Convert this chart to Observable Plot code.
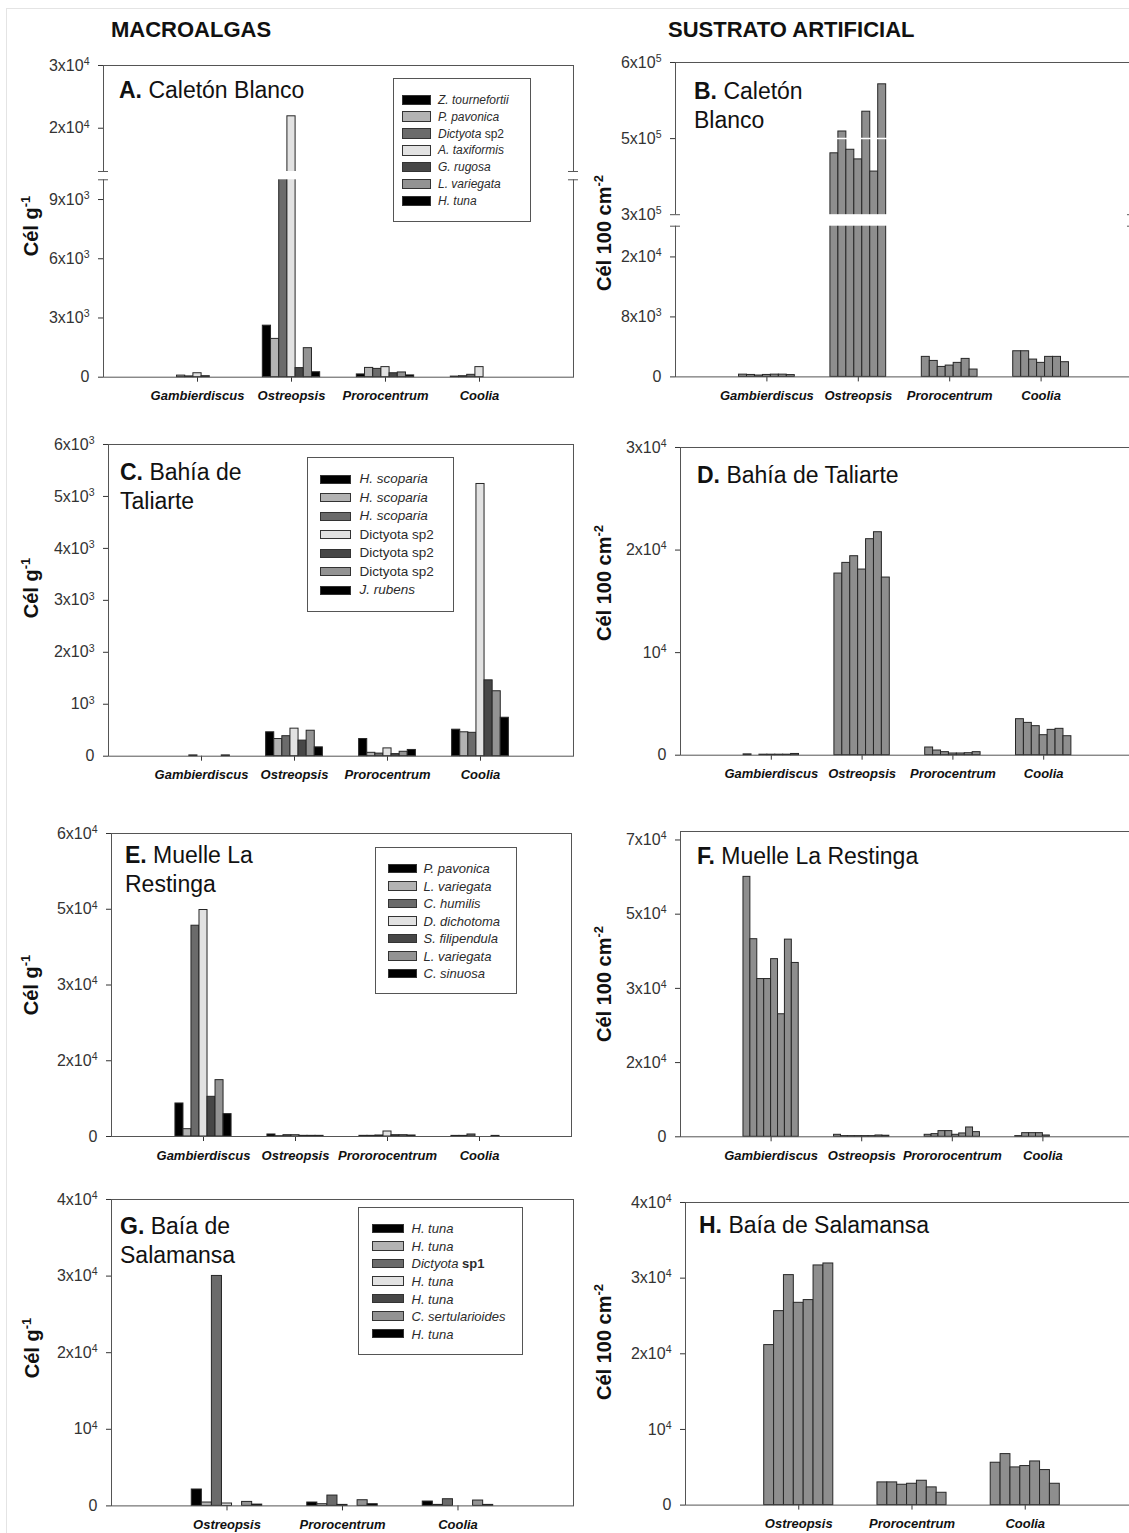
<!DOCTYPE html>
<html><head><meta charset="utf-8">
<script src="https://cdn.jsdelivr.net/npm/d3@7"></script>
<script src="https://cdn.jsdelivr.net/npm/@observablehq/plot@0.6"></script>
<style>
html,body{margin:0;padding:0;background:#fff;}
body{width:1129px;height:1533px;overflow:hidden;}
#page{position:relative;width:1129px;height:1533px;overflow:hidden;font-family:"Liberation Sans",Arial,Helvetica,sans-serif;color:#111;}
.a{position:absolute;white-space:nowrap;}
.hdr{font-weight:bold;font-size:22px;line-height:24px;}
.ttl{font-size:23px;line-height:29px;color:#111;}
.ylab{font-weight:bold;font-size:20px;line-height:22px;transform:translate(-50%,-50%) rotate(-90deg);}
.ylab sup{font-size:13px;line-height:0;vertical-align:0;position:relative;top:-8px;}
.leg{border:1px solid #555;background:#fff;box-sizing:border-box;}
.sw{position:absolute;border:1px solid #333;box-sizing:border-box;}
.lt{position:absolute;color:#2b2b2b;white-space:nowrap;transform:translateY(-50%);line-height:1;}
.edge{position:absolute;background:#e4e4e4;}
</style></head>
<body><div id="page"></div>
<script>
// ---------------- DATA ----------------
const groups4 = ["Gambierdiscus", "Ostreopsis", "Prorocentrum", "Coolia"];
const groupsE = ["Gambierdiscus", "Ostreopsis", "Prororocentrum", "Coolia"];
const groups3 = ["Ostreopsis", "Prorocentrum", "Coolia"];

const seriesA = ["Z. tournefortii", "P. pavonica", "Dictyota sp2", "A. taxiformis", "G. rugosa", "L. variegata", "H. tuna"];
const seriesC = ["H. scoparia", "H. scoparia", "H. scoparia", "Dictyota sp2", "Dictyota sp2", "Dictyota sp2", "J. rubens"];
const seriesE = ["P. pavonica", "L. variegata", "C. humilis", "D. dichotoma", "S. filipendula", "L. variegata", "C. sinuosa"];
const seriesG = ["H. tuna", "H. tuna", "Dictyota sp1", "H. tuna", "H. tuna", "C. sertularioides", "H. tuna"];
const substrate7 = ["1", "2", "3", "4", "5", "6", "7"];
const substrate8 = ["1", "2", "3", "4", "5", "6", "7", "8"];

// values: one row per group, one column per series
const valuesA = [
  [0, 80, 40, 200, 50, 0, 0],
  [2610, 1940, 11000, 21900, 460, 1470, 250],
  [140, 470, 420, 510, 200, 240, 90],
  [30, 50, 120, 510, 0, 0, 0]
];
const valuesB = [
  [300, 260, 180, 260, 300, 300, 240],
  [421000, 464000, 428000, 409000, 503000, 385000, 557000],
  [2670, 2130, 1330, 1510, 1870, 2400, 980],
  [3420, 3420, 2310, 1870, 2670, 2670, 1960]
];
const valuesC = [
  [0, 0, 15, 0, 0, 0, 15],
  [460, 330, 385, 530, 300, 490, 170],
  [330, 65, 50, 150, 40, 85, 120],
  [510, 460, 450, 5240, 1460, 1250, 740]
];
const valuesD = [
  [80, 0, 50, 50, 50, 50, 120],
  [17710, 18750, 19400, 18100, 21060, 21740, 17320],
  [750, 455, 295, 165, 165, 195, 295],
  [3510, 3150, 2830, 1950, 2470, 2570, 1850]
];
const valuesE = [
  [6540, 1450, 41740, 44850, 7860, 11160, 4430],
  [400, 60, 260, 260, 130, 130, 130],
  [130, 130, 200, 990, 260, 260, 200],
  [120, 120, 400, 0, 0, 120, 0]
];
const valuesF = [
  [61300, 46600, 37200, 37200, 41900, 28900, 46500, 41000],
  [470, 160, 160, 160, 160, 160, 310, 250],
  [470, 630, 1340, 1340, 470, 790, 2200, 1100],
  [160, 860, 860, 860, 310, 0, 0, 0]
];
const valuesG = [
  [2140, 440, 30020, 310, 0, 520, 170],
  [440, 220, 1350, 130, 0, 740, 220],
  [570, 130, 870, 0, 0, 700, 130]
];
const valuesH = [
  [21150, 25640, 30400, 26740, 27100, 31680, 31940],
  [3000, 3000, 2690, 2820, 3220, 2340, 1630],
  [5600, 6740, 4980, 5160, 5770, 4630, 2820]
];

// y tick values and their printed labels
const ticksA = [0, 3000, 6000, 9000, 20000, 30000];
const tickLabelsA = ["0", "3x10^3", "6x10^3", "9x10^3", "2x10^4", "3x10^4"];
const ticksB = [0, 8000, 16000, 300000, 450000, 600000];
const tickLabelsB = ["0", "8x10^3", "2x10^4", "3x10^5", "5x10^5", "6x10^5"];
const ticksC = [0, 1000, 2000, 3000, 4000, 5000, 6000];
const tickLabelsC = ["0", "10^3", "2x10^3", "3x10^3", "4x10^3", "5x10^3", "6x10^3"];
const ticksD = [0, 10000, 20000, 30000];
const tickLabelsD = ["0", "10^4", "2x10^4", "3x10^4"];
const ticksE = [0, 15000, 30000, 45000, 60000];
const tickLabelsE = ["0", "2x10^4", "3x10^4", "5x10^4", "6x10^4"];
const ticksF = [0, 17500, 35000, 52500, 70000];
const tickLabelsF = ["0", "2x10^4", "3x10^4", "5x10^4", "7x10^4"];
const ticksGH = [0, 10000, 20000, 30000, 40000];
const tickLabelsGH = ["0", "10^4", "2x10^4", "3x10^4", "4x10^4"];

const algaeColors = ["#000000", "#b3b3b3", "#6b6b6b", "#e2e2e2", "#474747", "#939393", "#000000"];
const substrateFill = "#8e8e8e";

// ---------------- LAYOUT / DRAWING ----------------
const page = document.getElementById("page");
const GW = 0.61; // share of each category slot occupied by its bar group

function addDiv(cls, style, html) {
  const d = document.createElement("div");
  d.className = cls;
  Object.assign(d.style, style);
  if (html !== undefined) d.innerHTML = html;
  page.appendChild(d);
  return d;
}

function supify(svg) {
  const ns = "http://www.w3.org/2000/svg";
  svg.querySelectorAll("text").forEach(t => {
    const s = t.textContent;
    if (!s.includes("^")) return;
    const [base, exp] = s.split("^");
    t.textContent = "";
    const a = document.createElementNS(ns, "tspan"); a.textContent = base; t.appendChild(a);
    const b = document.createElementNS(ns, "tspan"); b.textContent = exp;
    b.setAttribute("dy", "-0.55em"); b.setAttribute("font-size", "0.66em"); t.appendChild(b);
  });
}

function drawPanel(p) {
  const ml = 100, mr = 10, mt = 10, mb = 40;
  const Wf = p.R - p.L, Hf = p.B0 - p.T;
  const width = Wf + ml + mr, height = Hf + mt + mb;
  const top0 = p.T - mt;
  const n = p.series.length;
  const bw = GW / n;
  const rows = [];
  p.groups.forEach((g, gi) => p.series.forEach((s, si) => {
    const x1 = gi + 1 - GW / 2 + si * bw;
    rows.push({g, gi, si, v: p.values[gi][si], x1, x2: x1 + bw});
  }));
  const y = {ticks: p.ticks, tickFormat: d => p.tickLabels[p.ticks.indexOf(d)], tickSize: 5, tickPadding: 9, label: null};
  if (p.breakDomain) {
    y.type = "linear";
    y.domain = p.breakDomain;
    y.range = p.breakRange.map(v => v - top0);
  } else {
    y.domain = [0, p.yMax];
  }
  const marks = [
    Plot.rect(rows, {x1: "x1", x2: "x2", y1: 0, y2: "v",
      fill: p.colors ? "si" : substrateFill, stroke: "#262626", strokeWidth: 1})
  ];
  if (p.whiteRule !== undefined) marks.push(Plot.ruleY([p.whiteRule], {stroke: "white", strokeWidth: 1.5, insetLeft: 2, insetRight: 2}));
  marks.push(Plot.frame({stroke: "#555"}));
  if (p.breakDomain) {
    const lo = p.breakDomain[1], hi = p.breakDomain[2];
    marks.push(Plot.rect([0], {y1: lo, y2: hi, fill: "white", insetLeft: -7, insetRight: -7}));
    marks.push(Plot.ruleY([lo, hi], {stroke: "#555", insetLeft: -5, insetRight: Wf - 5}));
    marks.push(Plot.ruleY([lo, hi], {stroke: "#555", insetLeft: Wf - 5, insetRight: -5}));
  }
  const opts = {
    width, height, marginLeft: ml, marginRight: mr, marginTop: mt, marginBottom: mb,
    style: {fontFamily: "'Liberation Sans', Arial, sans-serif", fontSize: "16px", color: "#333", background: "transparent", overflow: "visible", maxWidth: "none"},
    x: {domain: [0, p.groups.length + 1], ticks: d3.range(1, p.groups.length + 1), tickFormat: d => p.groups[d - 1], tickSize: 5, tickPadding: 9, label: null},
    y,
    marks
  };
  if (p.colors) opts.color = {type: "ordinal", domain: d3.range(n), range: p.colors};
  const svg = Plot.plot(opts);
  supify(svg);
  svg.querySelectorAll("text").forEach(t => {
    if (p.groups.includes(t.textContent)) {
      t.style.fontWeight = "bold"; t.style.fontStyle = "italic"; t.style.fontSize = "13px"; t.style.fill = "#111";
    }
  });
  svg.style.position = "absolute";
  svg.style.left = (p.L - ml) + "px";
  svg.style.top = top0 + "px";
  page.appendChild(svg);

  // title
  addDiv("a ttl", {left: p.title.x + "px", top: (p.title.base - 22.7) + "px"}, p.title.html);
  // y label
  addDiv("a ylab", {left: p.ylab.x + "px", top: p.ylab.y + "px"}, p.ylab.html);
  // legend
  if (p.legend) {
    const lg = p.legend;
    addDiv("a leg", {left: lg.box[0] + "px", top: lg.box[1] + "px", width: (lg.box[2] - lg.box[0]) + "px", height: (lg.box[3] - lg.box[1]) + "px"});
    p.series.forEach((s, i) => {
      const cy = lg.row0 + i * lg.dy;
      addDiv("sw", {left: lg.sx + "px", top: (cy - lg.sh / 2) + "px", width: lg.sw + "px", height: lg.sh + "px", background: p.colors[i]});
      addDiv("lt", {left: lg.tx + "px", top: cy + "px", fontSize: lg.fs + "px"}, lg.fmt(s));
    });
  }
}

const italic = s => `<i>${s}</i>`;
const Y1 = "Cél g<sup>-1</sup>";
const Y2 = "Cél 100 cm<sup>-2</sup>";

// headers and faint edges
addDiv("edge", {left: "6px", top: "8px", width: "1px", height: "1525px"});
addDiv("edge", {left: "6px", top: "8px", width: "1123px", height: "1px"});
addDiv("a hdr", {left: "111px", top: "18px"}, "MACROALGAS");
addDiv("a hdr", {left: "668px", top: "18px"}, "SUSTRATO ARTIFICIAL");

drawPanel({L: 103, R: 573, T: 65, B0: 376.7, groups: groups4, series: seriesA, values: valuesA, colors: algaeColors,
  breakDomain: [0, 10000, 13100, 30000], breakRange: [376.7, 179.3, 171, 65],
  ticks: ticksA, tickLabels: tickLabelsA,
  title: {x: 119, base: 98.5, html: "<b>A.</b> Caletón Blanco"}, ylab: {x: 31, y: 226, html: Y1},
  legend: {box: [393, 78, 531, 222], sx: 402, sw: 29, sh: 10.5, tx: 438, row0: 99.8, dy: 16.85, fs: 12,
    fmt: s => s.startsWith("Dictyota") ? "<i>Dictyota</i> sp2" : italic(s)}});

drawPanel({L: 675, R: 1132, T: 62.3, B0: 376.7, groups: groups4, series: substrate7, values: valuesB,
  breakDomain: [0, 20100, 300000, 600000], breakRange: [376.7, 226, 214.5, 62.3], whiteRule: 450000,
  ticks: ticksB, tickLabels: tickLabelsB,
  title: {x: 694, base: 99.5, html: "<b>B.</b> Caletón<br>Blanco"}, ylab: {x: 604, y: 233, html: Y2}});

drawPanel({L: 108, R: 573, T: 444.3, B0: 756, groups: groups4, series: seriesC, values: valuesC, colors: algaeColors,
  yMax: 6000, ticks: ticksC, tickLabels: tickLabelsC,
  title: {x: 120, base: 481, html: "<b>C.</b> Bahía de<br>Taliarte"}, ylab: {x: 31, y: 588, html: Y1},
  legend: {box: [307, 457, 454, 612], sx: 320, sw: 31, sh: 9, tx: 359.5, row0: 479.3, dy: 18.45, fs: 13.5,
    fmt: s => s.startsWith("Dictyota") ? s : italic(s)}});

drawPanel({L: 680, R: 1134, T: 447.3, B0: 755, groups: groups4, series: substrate7, values: valuesD,
  yMax: 30000, ticks: ticksD, tickLabels: tickLabelsD,
  title: {x: 697, base: 483.5, html: "<b>D.</b> Bahía de Taliarte"}, ylab: {x: 604, y: 583, html: Y2}});

drawPanel({L: 111, R: 571, T: 832.7, B0: 1135.7, groups: groupsE, series: seriesE, values: valuesE, colors: algaeColors,
  yMax: 60000, ticks: ticksE, tickLabels: tickLabelsE,
  title: {x: 125, base: 863.5, html: "<b>E.</b> Muelle La<br>Restinga"}, ylab: {x: 31, y: 985, html: Y1},
  legend: {box: [374.5, 846.5, 516.5, 994], sx: 387.5, sw: 29.5, sh: 9.5, tx: 423.5, row0: 868.3, dy: 17.5, fs: 13,
    fmt: s => italic(s)}});

drawPanel({L: 680, R: 1133, T: 830.7, B0: 1136, groups: groupsE, series: substrate8, values: valuesF,
  yMax: 72000, ticks: ticksF, tickLabels: tickLabelsF,
  title: {x: 697, base: 864.5, html: "<b>F.</b> Muelle La Restinga"}, ylab: {x: 604, y: 984, html: Y2}});

drawPanel({L: 111, R: 573, T: 1199.3, B0: 1505.7, groups: groups3, series: seriesG, values: valuesG, colors: algaeColors,
  yMax: 40000, ticks: ticksGH, tickLabels: tickLabelsGH,
  title: {x: 120, base: 1234.5, html: "<b>G.</b> Baía de<br>Salamansa"}, ylab: {x: 32, y: 1348, html: Y1},
  legend: {box: [358, 1206.5, 523, 1355], sx: 371.5, sw: 32, sh: 9.5, tx: 411.5, row0: 1228.3, dy: 17.57, fs: 13,
    fmt: s => s.startsWith("Dictyota") ? "<i>Dictyota</i> <b>sp1</b>" : italic(s)}});

drawPanel({L: 685, R: 1138, T: 1201.7, B0: 1504.3, groups: groups3, series: substrate7, values: valuesH,
  yMax: 40000, ticks: ticksGH, tickLabels: tickLabelsGH,
  title: {x: 699, base: 1233.5, html: "<b>H.</b> Baía de Salamansa"}, ylab: {x: 604, y: 1342, html: Y2}});
</script>
</body></html>
